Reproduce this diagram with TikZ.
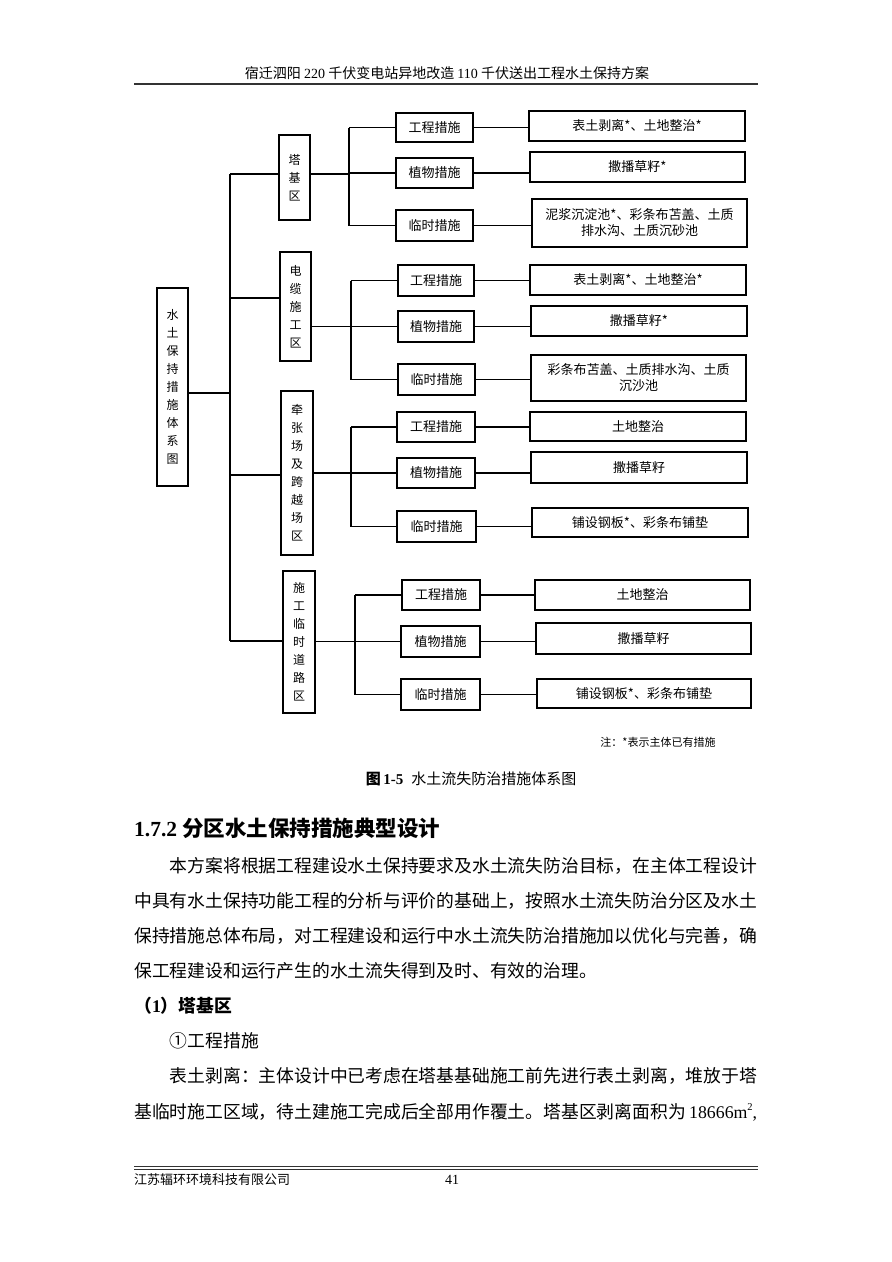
\documentclass[tikz,border=0pt]{standalone}
\usepackage{fontspec}
\setmainfont{Noto Sans CJK SC}
\newfontfamily\tnr{Liberation Serif}
\XeTeXlinebreaklocale "zh"
\XeTeXlinebreakskip=0pt plus 2pt
\begin{document}
\begin{tikzpicture}[x=1pt,y=-1pt,
  box/.style={draw, line width=1.1pt, inner sep=0pt, align=center, font=\fontsize{13}{16}\selectfont},
  vbox/.style={draw, line width=1.1pt, inner sep=0pt, align=center, font=\fontsize{12}{18}\selectfont},
  conn/.style={line width=1.1pt},
  body/.style={anchor=west, inner sep=0pt, font=\fontsize{17.8}{20}\selectfont},
  rule/.style={line width=#1, black!80}]
\useasboundingbox[fill=white] (0,0) rectangle (892,1262);

% header
\node[inner sep=0pt, font=\fontsize{14}{16}\selectfont] (hdr) at (447,73) {宿迁泗阳 {\tnr 220} 千伏变电站异地改造 {\tnr 110} 千伏送出工程水土保持方案};
\coordinate (hl) at (134,83.5); \coordinate (hr) at (758,83.5);
\draw[rule=2pt] (hl) -- (hr);

% root
\node[vbox, minimum width=31pt, minimum height=198pt] (root) at (172.5,387) {水\\土\\保\\持\\措\\施\\体\\系\\图};

% zones
\node[vbox, minimum width=31pt, minimum height=85pt] (Z1) at (294.5,177.5) {塔\\基\\区};
\node[vbox, minimum width=31pt, minimum height=109pt] (Z2) at (295.5,306.5) {电\\缆\\施\\工\\区};
\node[vbox, minimum width=32pt, minimum height=164pt] (Z3) at (297,473) {牵\\张\\场\\及\\跨\\越\\场\\区};
\node[vbox, minimum width=32pt, minimum height=142pt] (Z4) at (299,642) {施\\工\\临\\时\\道\\路\\区};

% main spine
\coordinate (sR) at (230,393);
\coordinate (t1) at (230,174);
\coordinate (t2) at (230,298);
\coordinate (t3) at (230,475);
\coordinate (t4) at (230,641);
\draw[conn] (t1) -- (t4);
\draw[conn] (root.east |- sR) -- (sR);
\draw[conn] (t1) -- (t1 -| Z1.west);
\draw[conn] (t2) -- (t2 -| Z2.west);
\draw[conn] (t3) -- (t3 -| Z3.west);
\draw[conn] (t4) -- (t4 -| Z4.west);

% group 1
\node[box, minimum width=77pt, minimum height=29pt] (M11) at (434.5,127.5) {工程措施};
\node[box, minimum width=77pt, minimum height=30pt] (M12) at (434.5,173) {植物措施};
\node[box, minimum width=77pt, minimum height=31pt] (M13) at (434.5,225.5) {临时措施};
\node[box, minimum width=216pt, minimum height=30pt] (D11) at (637,126) {表土剥离*、土地整治*};
\node[box, minimum width=215pt, minimum height=30pt] (D12) at (637.5,167) {撒播草籽*};
\node[box, minimum width=215pt, minimum height=48pt] (D13) at (639.5,223) {泥浆沉淀池*、彩条布苫盖、土质\\排水沟、土质沉砂池};
\coordinate (g1) at (349,0);
\draw[conn] (g1 |- M11) -- (g1 |- M13);
\draw[conn] (Z1.east |- t1) -- (g1 |- t1);
\foreach \i in {1,2,3}{
  \draw[conn] (g1 |- M1\i) -- (M1\i.west);
  \draw[conn] (M1\i.east) -- (M1\i.east -| D1\i.west);
}

% group 2
\node[box, minimum width=76pt, minimum height=31pt] (M21) at (436,280.5) {工程措施};
\node[box, minimum width=76pt, minimum height=31pt] (M22) at (436,326.5) {植物措施};
\node[box, minimum width=77pt, minimum height=31pt] (M23) at (436.5,379.5) {临时措施};
\node[box, minimum width=216pt, minimum height=30pt] (D21) at (638,280) {表土剥离*、土地整治*};
\node[box, minimum width=216pt, minimum height=30pt] (D22) at (639,321) {撒播草籽*};
\node[box, minimum width=215pt, minimum height=46pt] (D23) at (638.5,378) {彩条布苫盖、土质排水沟、土质\\沉沙池};
\coordinate (g2) at (351,0);
\draw[conn] (g2 |- M21) -- (g2 |- M23);
\draw[conn] (Z2.east |- M22) -- (g2 |- M22);
\foreach \i in {1,2,3}{
  \draw[conn] (g2 |- M2\i) -- (M2\i.west);
  \draw[conn] (M2\i.east) -- (M2\i.east -| D2\i.west);
}

% group 3
\node[box, minimum width=78pt, minimum height=30pt] (M31) at (436,427) {工程措施};
\node[box, minimum width=78pt, minimum height=30pt] (M32) at (436,473) {植物措施};
\node[box, minimum width=79pt, minimum height=31pt] (M33) at (436.5,526.5) {临时措施};
\node[box, minimum width=216pt, minimum height=29pt] (D31) at (638,426.5) {土地整治};
\node[box, minimum width=216pt, minimum height=31pt] (D32) at (639,467.5) {撒播草籽};
\node[box, minimum width=216pt, minimum height=29pt] (D33) at (640,522.5) {铺设钢板*、彩条布铺垫};
\coordinate (g3) at (351,0);
\draw[conn] (g3 |- M31) -- (g3 |- M33);
\draw[conn] (Z3.east |- M32) -- (g3 |- M32);
\foreach \i in {1,2,3}{
  \draw[conn] (g3 |- M3\i) -- (M3\i.west);
  \draw[conn] (M3\i.east) -- (M3\i.east -| D3\i.west);
}

% group 4
\node[box, minimum width=78pt, minimum height=30pt] (M41) at (441,595) {工程措施};
\node[box, minimum width=79pt, minimum height=31pt] (M42) at (440.5,641.5) {植物措施};
\node[box, minimum width=79pt, minimum height=31pt] (M43) at (440.5,694.5) {临时措施};
\node[box, minimum width=215pt, minimum height=30pt] (D41) at (642.5,595) {土地整治};
\node[box, minimum width=215pt, minimum height=31pt] (D42) at (643.5,638.5) {撒播草籽};
\node[box, minimum width=214pt, minimum height=29pt] (D43) at (644,693.5) {铺设钢板*、彩条布铺垫};
\coordinate (g4) at (355,0);
\draw[conn] (g4 |- M41) -- (g4 |- M43);
\draw[conn] (Z4.east |- M42) -- (g4 |- M42);
\foreach \i in {1,2,3}{
  \draw[conn] (g4 |- M4\i) -- (M4\i.west);
  \draw[conn] (M4\i.east) -- (M4\i.east -| D4\i.west);
}

% note and caption
\node[inner sep=0pt, font=\fontsize{11}{13}\selectfont] (note) at (658,742) {注：*表示主体已有措施};
\node[inner sep=0pt, font=\fontsize{15}{17}\selectfont] (cap) at (471,779) {{\bfseries 图\,{\tnr\bfseries 1-5}}\hspace{8pt}水土流失防治措施体系图};

% body text
\node[body, font=\bfseries\fontsize{21.5}{24}\selectfont] (h172) at (134,828) {{\tnr\bfseries 1.7.2} 分区水土保持措施典型设计};
\node[body] (p1) at (134,866) {\makebox[623pt][s]{\hspace*{2em}本方案将根据工程建设水土保持要求及水土流失防治目标，在主体工程设计}};
\node[body] (p2) at (134,901) {\makebox[623pt][s]{中具有水土保持功能工程的分析与评价的基础上，按照水土流失防治分区及水土}};
\node[body] (p3) at (134,936) {\makebox[623pt][s]{保持措施总体布局，对工程建设和运行中水土流失防治措施加以优化与完善，确}};
\node[body] (p4) at (134,971) {保工程建设和运行产生的水土流失得到及时、有效的治理。};
\node[body, font=\bfseries\fontsize{17.8}{20}\selectfont] (p5) at (134,1006) {（{\tnr\bfseries 1}）塔基区};
\node[body] (p6) at (134,1041) {\hspace*{2em}①工程措施};
\node[body] (p7) at (134,1076) {\makebox[623pt][s]{\hspace*{2em}表土剥离：主体设计中已考虑在塔基基础施工前先进行表土剥离，堆放于塔}};
\node[body] (p8) at (134,1112) {\makebox[623pt][s]{基临时施工区域，待土建施工完成后全部用作覆土。塔基区剥离面积为\hfill{\tnr 18666m\raisebox{0.42em}{\fontsize{10.5}{11}\selectfont 2},}}};

% footer
\coordinate (fl) at (134,1166.5); \coordinate (fr) at (758,1166.5);
\coordinate (fl2) at (134,1169.5); \coordinate (fr2) at (758,1169.5);
\draw[rule=1.6pt] (fl) -- (fr);
\draw[rule=0.6pt] (fl2) -- (fr2);
\node[anchor=west, inner sep=0pt, font=\fontsize{13}{15}\selectfont] (comp) at (134,1180) {江苏辐环环境科技有限公司};
\node[inner sep=0pt, font=\tnr\fontsize{14}{16}\selectfont] (pg) at (452,1180) {41};
\end{tikzpicture}
\end{document}
